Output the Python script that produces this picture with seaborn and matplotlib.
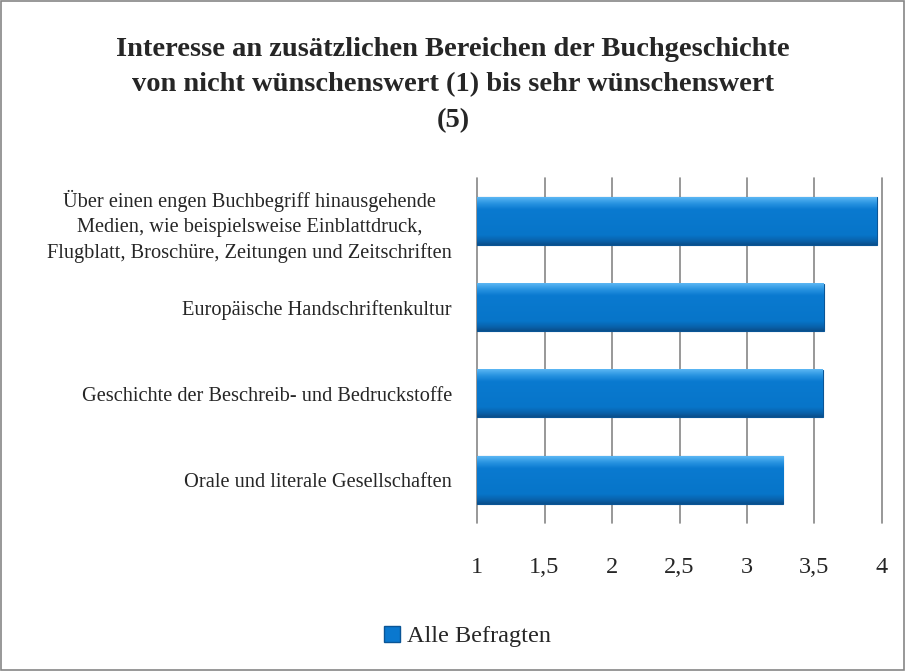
import matplotlib
matplotlib.use("Agg")
import matplotlib.pyplot as plt
import seaborn as sns
import numpy as np
import pandas as pd
from matplotlib.patches import Rectangle
from matplotlib.lines import Line2D
from matplotlib.colors import LinearSegmentedColormap

# data
categories = [
    "Über einen engen Buchbegriff hinausgehende\nMedien, wie beispielsweise Einblattdruck,\nFlugblatt, Broschüre, Zeitungen und Zeitschriften",
    "Europäische Handschriftenkultur",
    "Geschichte der Beschreib- und Bedruckstoffe",
    "Orale und literale Gesellschaften",
]
values = [3.96, 3.57, 3.56, 3.27]
x_ticks = [1, 1.5, 2, 2.5, 3, 3.5, 4]
x_tick_labels = ["1", "1,5", "2", "2,5", "3", "3,5", "4"]
series_name = "Alle Befragten"

df = pd.DataFrame({"Bereich": categories, "Wert": values})

sns.set_style("white")
plt.rcParams["font.family"] = ["Liberation Serif", "DejaVu Serif"]

fig = plt.figure(figsize=(9.06, 6.71), dpi=100)
ax = fig.add_axes([0.5265, 0.2206, 0.447, 0.514])

bar_color = "#0a78cf"
sns.barplot(data=df, x="Wert", y="Bereich", orient="h", color=bar_color,
            saturation=1, width=0.55, edgecolor="#0a5596", linewidth=0.8,
            ax=ax, zorder=3)

ax.set_xlim(1, 4)
ax.set_ylim(3.5, -0.5)

# vertical shading on the bars: light top edge, darker bottom edge
shade = LinearSegmentedColormap.from_list(
    "shade", [(0, "#5ab6f3"), (0.12, "#2a95e2"), (0.25, "#0a7ad0"),
              (0.8, "#0775c9"), (0.92, "#0962ab"), (1, "#0a4f8c")])
grad = np.linspace(0, 1, 64).reshape(-1, 1)
x_left = ax.get_xlim()[0]
for p in ax.patches:
    x0, y0 = p.get_x(), p.get_y()
    w, h = p.get_width(), p.get_height()
    ax.imshow(grad, cmap=shade, aspect="auto", zorder=3.5,
              extent=(max(x0, x_left), x0 + w, y0 + h, y0),
              interpolation="bilinear")
ax.set_xlim(1, 4)
ax.set_ylim(3.5, -0.5)

ax.set_xticks(x_ticks)
ax.set_xticklabels(x_tick_labels, fontsize=17.5)
ax.grid(axis="x", color="#868686", linewidth=1.2, zorder=0)
ax.grid(axis="y", visible=False)
for gl in ax.get_xgridlines():
    gl.set_clip_on(False)
for s in ax.spines.values():
    s.set_visible(False)
ax.tick_params(axis="x", length=0, pad=36)
ax.tick_params(axis="y", length=0, pad=18)
for lbl in ax.get_xticklabels():
    lbl.set_va("baseline")
for lbl in ax.get_yticklabels():
    lbl.set_fontsize(14.7)
    lbl.set_multialignment("center")
    lbl.set_linespacing(1.4)
ax.set_xlabel("")
ax.set_ylabel("")

fig.text(0.5, 0.945,
         "Interesse an zusätzlichen Bereichen der Buchgeschichte\nvon nicht wünschenswert (1) bis sehr wünschenswert\n(5)",
         ha="center", va="top", fontsize=20.5, fontweight="bold", linespacing=1.55)

handle = Line2D([], [], marker="s", linestyle="", markersize=12,
                markerfacecolor=bar_color, markeredgecolor="#0a5596")
fig.legend([handle], [series_name], loc="center", bbox_to_anchor=(0.515, 0.052),
           frameon=False, fontsize=17.5, handletextpad=0.25, handlelength=0.8)

fig.patches.append(Rectangle((0.001, 0.001), 0.997, 0.997, transform=fig.transFigure,
                             fill=False, edgecolor="#868686", linewidth=1.2))

fig.savefig("out.png", dpi=100)
